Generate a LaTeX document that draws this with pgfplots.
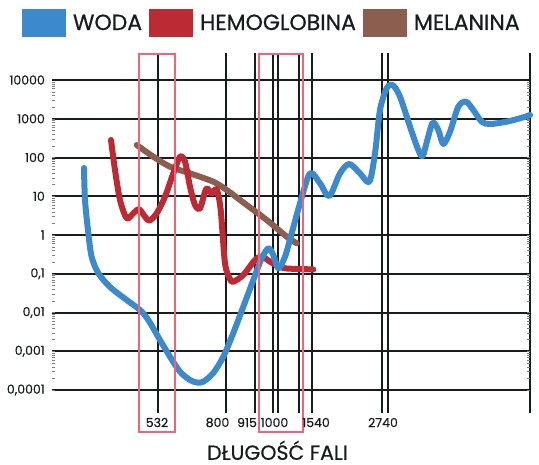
\documentclass[border=0pt]{standalone}
\usepackage{pgfplots}
\pgfplotsset{compat=1.18}
\usepackage{fontspec}
\setmainfont{Poppins}[FakeBold=0.6]

\definecolor{woda}{RGB}{60,138,204}
\definecolor{hemo}{RGB}{188,42,52}
\definecolor{mela}{RGB}{139,94,79}
\definecolor{ramka}{RGB}{240,100,122}
\definecolor{siatka}{RGB}{24,28,30}

\begin{document}
\begin{tikzpicture}
\begin{axis}[
  scale only axis, width=478pt, height=360pt,
  xmin=52, xmax=530,
  ymode=log, ymin=2.55e-5, ymax=49770,
  clip=false,
  axis line style={draw=none},
  major tick length=0pt, minor tick num=0,
  xtick={157.7,225.5,254.5,273,278,299.3,311.7,382.3,387.5,530},
  xticklabels={},
  ytick={1e-4,1e-3,1e-2,1e-1,1,10,100,1000,10000},
  yticklabels={{0,0001},{0,001},{0,01},{0,1},1,10,100,1000,10000},
  yticklabel style={anchor=east, inner sep=0pt, xshift=-7pt,
    font=\fontsize{12.5}{14}\selectfont, text=siatka},
  /pgf/number format/assume math mode=true,
  xmajorgrids, ymajorgrids,
  major grid style={line width=2pt, draw=siatka, opacity=1},
  every axis plot/.append style={line width=6pt, line cap=round, line join=round, smooth},
  reverse legend,
  legend columns=3,
  legend style={at={(-0.0628,1.0833)}, anchor=west, draw=none, fill=none,
    inner sep=0pt, outer sep=0pt,
    font=\fontsize{22}{24}\selectfont, text=siatka,
    nodes={inner xsep=0pt, inner ysep=0pt},
    /tikz/every odd column/.append style={column sep=7pt},
    /tikz/every even column/.append style={column sep=7pt}},
  legend image code/.code={\fill[#1, draw=none] (0pt,-14pt) rectangle (44pt,14pt);},
]

% melanina
\addplot[mela] coordinates {
  (136.7,210) (153.3,105) (170,57.9) (190,39.1) (213.3,23.7) (226.7,14.5)
  (246.7,5.94) (266.7,2.44) (286.7,0.904) (296.7,0.611)
};
\addlegendentry{MELANINA}

% hemoglobina
\addplot[hemo] coordinates {
  (111,283) (115,47.6) (120,8.0) (126.7,2.70) (133.3,3.63) (139,4.61)
  (145,2.97) (149.3,2.34) (156.7,3.63) (165,9.73) (173.3,39.1) (180,105)
  (185,78) (190,17.6) (195,5.94) (200,4.89) (205,13.1) (207.3,16.0)
  (211.7,11.9) (216.7,15.1) (220.7,4.42) (225,0.186) (230,0.073)
  (233.3,0.0624) (243.3,0.093) (255,0.226) (262,0.279) (270,0.205)
  (283.3,0.141) (300,0.133) (313.3,0.129)
};
\addlegendentry{HEMOGLOBINA}

% woda
\addplot[woda] coordinates {
  (84,53.6) (85,8.0) (88.3,1.13) (91.7,0.270) (98.3,0.104) (110,0.0455)
  (126.7,0.0210) (140,0.0116) (148.3,0.0064) (160,0.00195) (170,0.000723)
  (180,0.000296) (190,0.000181) (197,0.000156) (203.3,0.000164)
  (213.3,0.000275) (223.3,0.000723) (233.3,0.00296) (243.3,0.0141)
  (253.3,0.069) (261.7,0.251) (268.3,0.454) (273.3,0.305) (278.3,0.138)
  (285,0.275) (291.7,1.11) (300,6.58) (310,39.1) (320,21.6) (329.3,10.1)
  (340,39.1) (349.3,67.9) (360,39.1) (369.3,23.7) (375,128) (380,1683)
  (386.7,6110) (392.7,7430) (400,3710) (410,624) (418.3,156) (422.7,109)
  (427.3,283) (432.7,791) (438.3,513) (443.3,223) (450,463) (458.3,2046)
  (466,2754) (473.3,1683) (481.7,839) (490,732) (506.7,839) (523.3,1089)
  (530,1250)
};
\addlegendentry{WODA}

% ramki
\draw[ramka, line width=1.8pt] (axis cs:139,8.24e-6) rectangle (axis cs:175,4.69e4);
\draw[ramka, line width=1.8pt] (axis cs:259,8.24e-6) rectangle (axis cs:303,4.69e4);

% podpisy osi x
\begin{scope}[every node/.style={font=\fontsize{12.5}{14}\selectfont, text=siatka, inner sep=0pt}]
\node at (axis cs:157,1.449e-5) {532};
\node at (axis cs:217.5,1.449e-5) {800};
\node at (axis cs:247,1.449e-5) {915};
\node at (axis cs:274.5,1.449e-5) {1000};
\node at (axis cs:316,1.449e-5) {1540};
\node at (axis cs:383,1.449e-5) {2740};
\end{scope}
\node[font=\fontsize{20.5}{24}\selectfont, text=siatka, inner sep=0pt, anchor=base]
  at (axis cs:277.5,1.58e-6) {DŁUGOŚĆ FALI};

% obszar rysunku
\path (rel axis cs:-0.10879,1.14722) rectangle (rel axis cs:1.01883,-0.14444);
\end{axis}
\end{tikzpicture}
\end{document}
